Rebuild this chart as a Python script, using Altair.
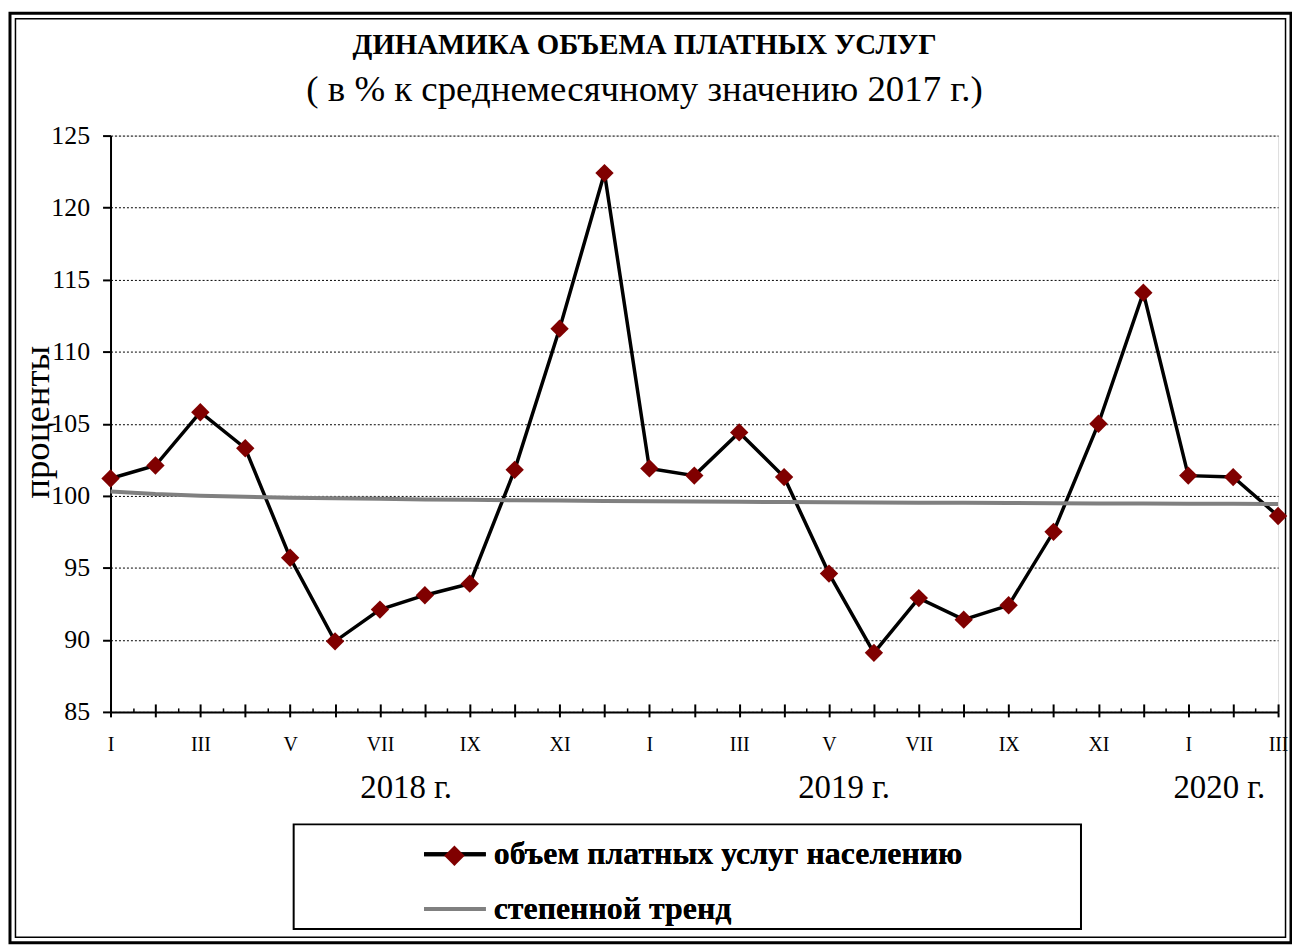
import json
import altair as alt
import pandas as pd

# ---- data ----
series_names = ["объем платных услуг населению", "степенной тренд"]
month_index = list(range(27))  # Jan 2018 .. Mar 2020
volume = [101.2, 102.1, 105.8, 103.3, 95.7, 89.9, 92.1, 93.1, 93.9, 101.8, 111.6, 122.4,
          101.9, 101.4, 104.4, 101.3, 94.6, 89.1, 92.9, 91.4, 92.4, 97.5, 105.0, 114.1,
          101.4, 101.3, 98.6]
trend = [100.30, 100.12, 100.01, 99.93, 99.87, 99.83, 99.79, 99.75, 99.72, 99.69, 99.67, 99.64,
         99.62, 99.60, 99.58, 99.57, 99.55, 99.54, 99.52, 99.51, 99.50, 99.48, 99.47, 99.46,
         99.45, 99.44, 99.43]
tick_labels = ["I", "III", "V", "VII", "IX", "XI", "I", "III", "V", "VII", "IX", "XI", "I", "III"]
year_labels = ["2018 г.", "2019 г.", "2020 г."]
y_ticks = [85, 90, 95, 100, 105, 110, 115, 120, 125]

title_text = "ДИНАМИКА ОБЪЕМА ПЛАТНЫХ УСЛУГ"
subtitle_text = "( в % к среднемесячному значению 2017 г.)"
y_title = "проценты"

# ---- layout constants (pixels, relative to plot area) ----
W, H = 1173, 579
year_px = [297, 737, 1114]
year_py = 656
FONT = "Liberation Serif"

main_df = pd.DataFrame({"m": month_index, "v": volume, "series": series_names[0]})
trend_df = pd.DataFrame({"m": month_index, "v": trend, "series": series_names[1]})
year_df = pd.DataFrame({"label": year_labels, "px": year_px})

xscale = alt.Scale(domain=[0, 26], nice=False, zero=False)
yscale = alt.Scale(domain=[85, 125], nice=False, zero=False)

y_enc = alt.Y("v:Q", scale=yscale, title=y_title,
              axis=alt.Axis(orient="left", values=y_ticks, tickSize=8, tickWidth=2, tickColor="black",
                            domainColor="black", domainWidth=2,
                            labelFont=FONT, labelFontSize=26, labelColor="black", labelPadding=13,
                            grid=True, gridColor="black", gridDash=[2, 2], gridWidth=1,
                            titleFont=FONT, titleFontSize=37, titleFontWeight="normal",
                            titleColor="black", titleX=-73, titleY=H / 2 - 2,
                            titleAlign="center", titleBaseline="middle", titleAngle=270))

label_expr = "datum.value % 2 === 0 ? " + json.dumps(tick_labels) + "[datum.value / 2] : ''"

x_main = alt.X("m:Q", scale=xscale, title=None,
               axis=alt.Axis(orient="bottom", values=month_index, tickSize=5, tickWidth=2,
                             tickColor="black", domainColor="black", domainWidth=2, grid=False,
                             labelExpr=label_expr, labelFont=FONT, labelFontSize=20,
                             labelColor="black", labelPadding=18, labelFlush=False,
                             labelOverlap=False))
x_major_up = alt.X("m:Q", scale=xscale, title=None,
                   axis=alt.Axis(values=month_index, orient="bottom", offset=-8, tickSize=8,
                                 tickWidth=2, tickColor="black", domain=False, labels=False,
                                 grid=False))
x_minor_up = alt.X("m:Q", scale=xscale, title=None,
                   axis=alt.Axis(values=[i + 0.5 for i in month_index[:-1]], orient="bottom",
                                 offset=-4, tickSize=4, tickWidth=1.5, tickColor="black",
                                 domain=False, labels=False, grid=False))

stroke_legend = alt.Legend(orient="none", legendX=313, legendY=709, title=None,
                           symbolType="stroke", symbolSize=3844, symbolStrokeWidth=4,
                           clipHeight=26, labelLimit=800,
                           labelFont=FONT, labelFontSize=32, labelFontWeight="bold",
                           labelColor="black", labelOffset=6, rowPadding=23, padding=0)
stroke_enc = alt.Stroke("series:N", legend=stroke_legend,
                        scale=alt.Scale(domain=series_names, range=["black", "#808080"]))

fill_legend = alt.Legend(orient="none", legendX=335, legendY=713, title=None,
                         symbolType="diamond", symbolSize=420, symbolStrokeWidth=0,
                         labelExpr="''", padding=0)
fill_enc = alt.Fill("series:N", legend=fill_legend,
                    scale=alt.Scale(domain=[series_names[0]], range=["#800000"]))

deco = alt.Data(values=[{}])

outer_frame = alt.Chart(deco).mark_rect(fillOpacity=0, stroke="black", strokeWidth=3).encode(
    x=alt.value(-101), x2=alt.value(1186), y=alt.value(-123), y2=alt.value(811))
inner_frame = alt.Chart(deco).mark_rect(fillOpacity=0, stroke="black", strokeWidth=1.5).encode(
    x=alt.value(-95.5), x2=alt.value(1180.5), y=alt.value(-117.5), y2=alt.value(805.5))
legend_box = alt.Chart(deco).mark_rect(fillOpacity=0, stroke="black", strokeWidth=2).encode(
    x=alt.value(184), x2=alt.value(975), y=alt.value(692), y2=alt.value(797))

trend_layer = alt.Chart(trend_df).mark_line(strokeWidth=4).encode(
    x=x_major_up, y=y_enc, stroke=stroke_enc)
main_line = alt.Chart(main_df).mark_line(strokeWidth=3.5).encode(
    x=x_main, y=y_enc, stroke=stroke_enc)
points = alt.Chart(main_df).mark_point(shape="diamond", filled=True, size=340, opacity=1,
                                       strokeWidth=0).encode(
    x=x_minor_up, y=y_enc, fill=fill_enc)
years = alt.Chart(year_df).mark_text(font=FONT, fontSize=33, color="black",
                                     baseline="middle", align="center").encode(
    x=alt.X("px:Q", scale=None, axis=None), y=alt.value(year_py), text="label:N")

chart = alt.layer(main_line, outer_frame, inner_frame, legend_box, trend_layer, points, years).resolve_axis(
    x="independent").resolve_scale(stroke="independent", fill="independent").properties(
    width=W, height=H,
    autosize=alt.AutoSizeParams(type="none"),
    padding={"left": 103, "top": 126, "right": 14, "bottom": 233},
    title=alt.TitleParams(text=title_text, subtitle=subtitle_text, anchor="middle", dx=-50,
                          font=FONT, fontSize=29, fontWeight="bold", color="black",
                          subtitleFont=FONT, subtitleFontSize=37, subtitleColor="black",
                          subtitleFontWeight="normal", subtitlePadding=12, offset=-97),
).configure_view(stroke="black", strokeWidth=2).configure(background="white")

chart.save("out.html", embed_options={"renderer": "svg", "actions": False})
